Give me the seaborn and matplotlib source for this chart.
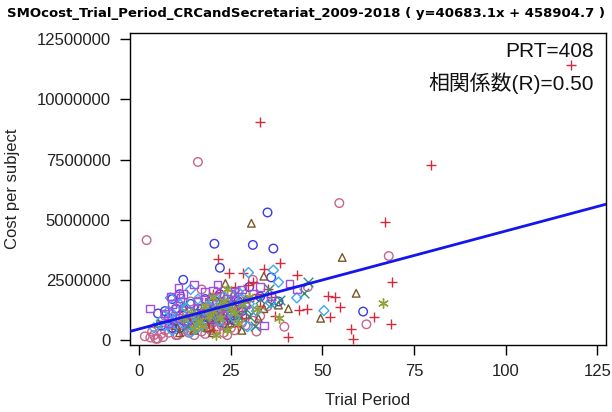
import matplotlib
matplotlib.use("Agg")
import matplotlib.pyplot as plt
import seaborn as sns
import pandas as pd

# ---------------- data (trial period, cost per subject in millions) ----------------
title = "SMOcost_Trial_Period_CRCandSecretariat_2009-2018 ( y=40683.1x + 458904.7 )"
slope = 40683.1
intercept = 458904.7
prt_text = "PRT=408"
r_text = "相関係数(R)=0.50"

x_ticks = [0, 25, 50, 75, 100, 125]
x_tick_labels = ["0", "25", "50", "75", "100", "125"]
y_ticks = [0, 2500000, 5000000, 7500000, 10000000, 12500000]
y_tick_labels = ["0", "2500000", "5000000", "7500000", "10000000", "12500000"]

pink_x = [2, 16, 54.6, 68.1, 46, 39.6, 31, 17, 62, 1.5, 3, 4, 5, 6, 3.5, 7, 8, 9, 10, 11, 12, 13, 14, 15, 16, 17, 18, 19, 20, 21, 22, 23, 24, 25, 26, 27, 28, 30, 32, 35, 12, 14, 16, 20, 9, 7, 18, 24, 26, 29, 33, 4.5, 6.5, 10.5, 13.5, 19.5, 22.5,
          8, 11, 13, 15, 17, 19, 21, 23, 25, 27, 29, 31, 10, 14, 16, 18, 20, 22, 24, 26]
pink_y = [4.15, 7.4, 5.69, 3.49, 2.2, 0.55, 2.5, 2.1, 0.65, 0.15, 0.1, 0.2, 0.05, 0.25, 0.35, 0.4, 0.3, 0.5, 0.45, 0.6, 0.35, 0.7, 0.5, 0.8, 0.55, 0.9, 0.6, 1.0, 0.7, 0.45, 1.1, 0.8, 1.3, 0.5, 1.0, 1.5, 0.7, 1.2, 0.35, 1.4, 1.2, 1.6, 1.3, 1.5, 0.9, 1.0, 0.25, 0.2, 1.8, 1.9, 1.0, 0.05, 0.12, 0.2, 0.3, 0.4, 0.6,
          0.8, 1.0, 0.4, 0.2, 0.35, 0.5, 1.2, 0.3, 1.1, 0.9, 0.6, 0.8, 0.2, 0.9, 1.6, 1.1, 0.95, 0.75, 0.6, 0.4]

blue_x = [20.5, 31, 36.6, 35, 22, 12, 61.1, 5.1, 8, 10, 12, 14, 16, 18, 20, 22, 24, 27, 30, 33, 38, 6, 11, 15, 19, 9, 26, 36,
          9, 13, 17, 21, 23, 25, 28, 7, 11]
blue_y = [4.0, 3.95, 3.8, 5.3, 3.0, 2.5, 1.18, 1.1, 0.9, 1.3, 1.0, 1.5, 1.1, 1.7, 1.2, 1.9, 1.4, 1.6, 2.2, 1.8, 1.6, 0.6, 0.5, 0.7, 0.9, 1.7, 0.8, 2.6,
          0.5, 0.8, 1.3, 1.5, 0.7, 1.0, 1.2, 1.2, 1.9]

brown_x = [30.6, 55.4, 59.2, 49.5, 34, 23.5, 40.7, 38, 32.5, 19.4, 18.6, 5.2, 10, 13, 15, 17, 21, 23, 25, 27, 29, 12, 20, 28, 34,
           14, 16, 18, 22, 24, 26, 11]
brown_y = [4.85, 3.43, 1.94, 0.9, 2.65, 2.35, 1.3, 1.45, 0.9, 1.8, 0.5, 0.7, 0.6, 0.9, 0.4, 1.2, 0.9, 1.5, 0.7, 1.1, 1.7, 1.4, 0.3, 0.4, 1.3,
           0.7, 1.0, 0.8, 1.2, 0.5, 1.4, 0.3]

red_x = [33, 117.8, 79.7, 67.2, 69, 51.6, 53.4, 54.9, 52, 64, 68.8, 57.8, 58.4, 45.8, 43.5, 21.4, 24.4, 28.4, 38.5, 34, 31, 29.8, 43, 40.5, 20, 14, 18, 22, 25, 26, 28, 30, 32, 35, 23, 27, 16, 37,
         19, 21, 24, 29, 33, 36, 20]
red_y = [9.05, 11.42, 7.28, 4.9, 2.4, 1.84, 1.77, 1.38, 0.97, 0.97, 0.65, 0.47, 0.05, 1.27, 1.25, 3.35, 2.8, 2.8, 3.2, 2.95, 2.4, 2.3, 2.7, 0.12, 0.4, 1.0, 1.3, 2.0, 1.6, 2.2, 1.2, 1.6, 1.9, 2.1, 0.9, 0.6, 0.8, 1.0,
         0.7, 1.1, 1.4, 0.9, 1.4, 1.8, 1.9]

teal_x = [46, 45, 38.5, 35.5, 31.7, 20, 22, 24, 26, 28, 30, 33, 18, 15, 36,
          16, 19, 21, 23, 25, 27, 29, 13]
teal_y = [2.4, 1.95, 1.65, 2.1, 0.6, 1.3, 1.6, 1.1, 1.9, 1.4, 1.0, 1.7, 0.9, 1.2, 1.5,
          0.9, 1.1, 0.8, 1.4, 1.7, 1.0, 1.3, 0.6]

diam_x = [29.8, 36.6, 38, 14, 50.4, 29.5, 43, 35.8, 8.5, 6, 8, 10, 11, 12, 13, 15, 16, 17, 19, 21, 23, 25, 27, 9, 14, 30, 4, 7,
          9, 12, 14, 18, 20, 22, 24, 26, 28, 16, 32]
diam_y = [2.8, 2.9, 2.4, 2.1, 1.22, 0.55, 1.75, 1.55, 1.75, 0.8, 1.2, 0.9, 1.5, 0.7, 1.3, 1.0, 1.7, 0.6, 1.4, 1.1, 1.8, 1.2, 2.0, 0.4, 0.3, 1.5, 0.5, 0.6,
          1.1, 1.6, 0.9, 1.2, 1.6, 0.8, 1.5, 0.9, 1.7, 0.5, 1.2]

sq_x = [3, 10.7, 11.2, 21.3, 20.2, 41, 43, 34, 26, 8.7, 7, 9, 12, 14, 16, 18, 22, 24, 26, 28, 31, 33, 13, 20, 36, 15,
        10, 11, 17, 19, 21, 23, 25, 27, 29, 8]
sq_y = [1.3, 2.15, 1.75, 2.3, 2.05, 2.35, 2.1, 0.6, 2.0, 1.8, 1.1, 1.5, 1.9, 1.2, 1.6, 2.0, 1.3, 1.7, 1.4, 2.1, 1.9, 2.2, 0.8, 0.9, 1.8, 2.3,
        1.3, 0.9, 1.1, 1.6, 1.8, 1.1, 1.9, 1.2, 1.5, 0.7]

ast_x = [66.6, 18, 20, 22, 24, 25, 27, 30, 32, 17, 23, 38, 21,
         12, 14, 16, 19, 26, 28, 15, 20, 22, 24]
ast_y = [1.52, 1.4, 1.8, 0.9, 2.1, 1.3, 0.7, 1.8, 1.3, 0.6, 1.6, 0.9, 0.2,
         0.9, 1.1, 0.8, 1.0, 1.1, 1.5, 0.5, 1.2, 1.4, 0.4]

groups = [
    ("pink", pink_x, pink_y, "o", "#C8648C", True),
    ("blue", blue_x, blue_y, "o", "#3B3BE8", True),
    ("brown", brown_x, brown_y, "^", "#7A5628", True),
    ("red", red_x, red_y, "+", "#D42A3C", False),
    ("teal", teal_x, teal_y, "x", "#2E8A7C", False),
    ("diam", diam_x, diam_y, "D", "#3AA8F2", True),
    ("sq", sq_x, sq_y, "s", "#A24CE0", True),
    ("ast", ast_x, ast_y, (6, 2, 0), "#8FA23A", False),
]
marker_sizes = {"o": 38, "^": 30, "D": 26, "s": 30}

# ---------------- figure ----------------
sns.set_theme(style="ticks")
plt.rcParams["font.family"] = ["Liberation Sans", "Noto Sans CJK JP", "DejaVu Sans"]

fig = plt.figure(figsize=(6.12, 4.12), dpi=100)
ax = fig.add_axes([130 / 612, 1 - 345 / 412, (606 - 130) / 612, (345 - 33) / 412])

for name, gx, gy, mk, col, filled in groups:
    df = pd.DataFrame({"x": gx, "y": [v * 1e6 for v in gy]})
    if filled:
        sns.scatterplot(data=df, x="x", y="y", ax=ax, marker=mk, s=marker_sizes[mk],
                        facecolors="none", edgecolors=col, linewidths=1.0, color=col,
                        zorder=3)
    else:
        sns.scatterplot(data=df, x="x", y="y", ax=ax, marker=mk, s=48,
                        color=col, edgecolors=col, linewidths=1.0, zorder=3)

ax.axline((0, intercept), slope=slope, color="#1515F0", lw=2.0, zorder=4)

ax.set_xlim(-2.54, 127.4)
ax.set_ylim(-210000, 12760000)
ax.set_xticks(x_ticks)
ax.set_xticklabels(x_tick_labels)
ax.set_yticks(y_ticks)
ax.set_yticklabels(y_tick_labels)
ax.tick_params(axis="both", direction="out", length=7, width=1, color="black",
               labelsize=12, labelcolor="#222222", pad=7)
for sp in ax.spines.values():
    sp.set_visible(True)
    sp.set_color("black")
    sp.set_linewidth(1.0)

ax.set_xlabel("Trial Period", fontsize=12, color="#222222", labelpad=10)
ax.set_ylabel("Cost per subject", fontsize=12, color="#222222", labelpad=12)

fig.text(0.5, 1 - 13 / 412, title, ha="center", va="center", fontsize=9.5,
         fontweight="bold", family=["DejaVu Sans"], color="black")

ax.text(0.975, 0.94, prt_text, transform=ax.transAxes, ha="right", va="center",
        fontsize=15, color="#111111")
ax.text(0.975, 0.84, r_text, transform=ax.transAxes, ha="right", va="center",
        fontsize=15, color="#111111")

fig.savefig("out.png", dpi=100)
